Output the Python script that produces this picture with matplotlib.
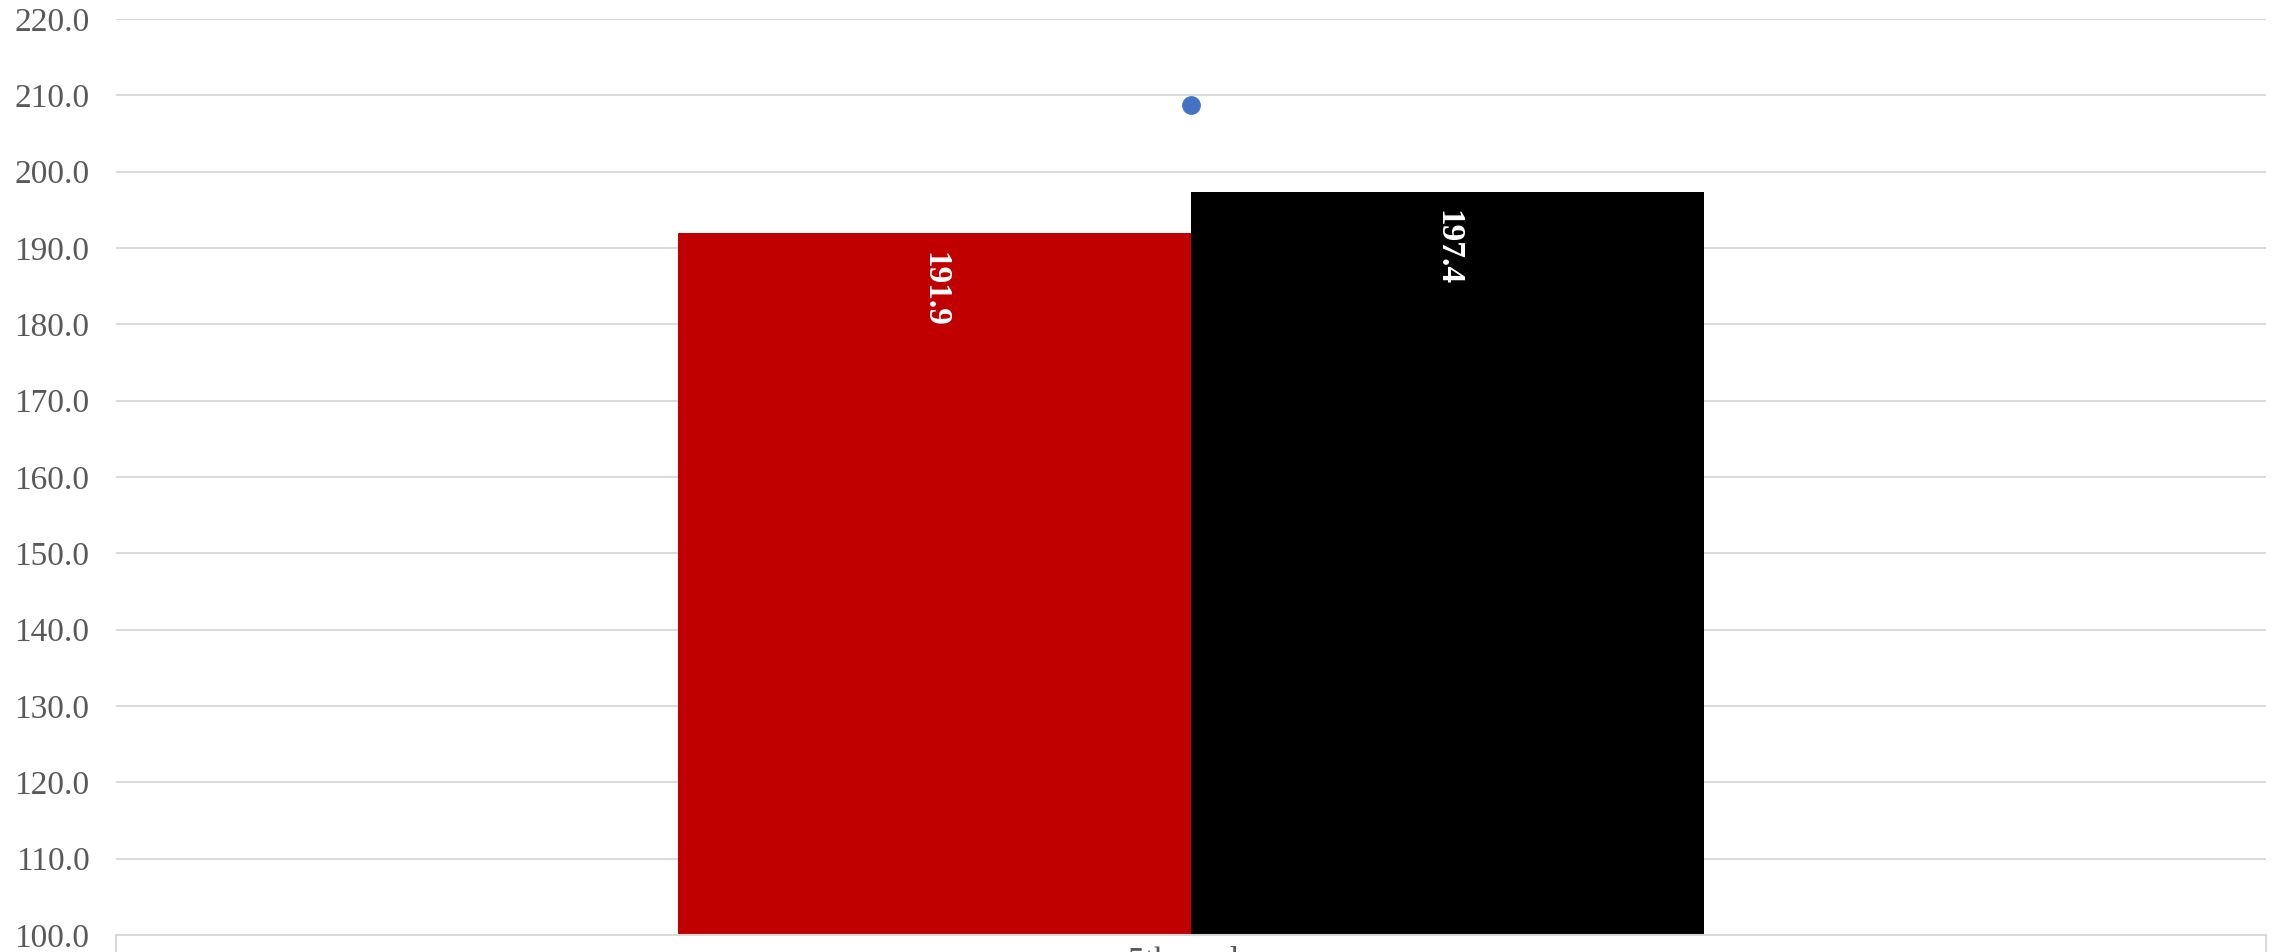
import matplotlib.pyplot as plt
from matplotlib.ticker import FormatStrFormatter

# data
categories = ["5th grade"]
series_red = [191.9]
series_black = [197.4]
marker_vals = [208.7]
y_ticks = [100, 110, 120, 130, 140, 150, 160, 170, 180, 190, 200, 210, 220]

plt.rcParams['font.family'] = ['Liberation Serif', 'DejaVu Serif']

fig = plt.figure(figsize=(22.78, 9.52), dpi=100)
ax = fig.add_axes([116 / 2278, 17 / 952, 2150 / 2278, 916 / 952])

x = list(range(len(categories)))
w = 0.2386
xr = [i - w / 2 for i in x]
xb = [i + w / 2 for i in x]

bars_r = ax.bar(xr, series_red, width=w, color='#C00000', zorder=2)
bars_b = ax.bar(xb, series_black, width=w, color='#000000', zorder=2)
ax.plot(x, marker_vals, 'o', color='#4472C4', markersize=12.5, zorder=3)

# value labels, rotated, just inside the bar tops
for bars in (bars_r, bars_b):
    for b in bars:
        h = b.get_height()
        ax.annotate(f"{h:.1f}", (b.get_x() + b.get_width() / 2, h),
                    xytext=(0, -13), textcoords='offset points',
                    rotation=-90, ha='center', va='top', color='white',
                    fontsize=24, fontweight='bold')

ax.set_ylim(100, 220)
ax.set_xlim(-0.5, len(categories) - 0.5)
ax.set_yticks(y_ticks)
ax.yaxis.set_major_formatter(FormatStrFormatter('%.1f'))
ax.grid(axis='y', color='#D9D9D9', linewidth=1.4, zorder=0)
ax.set_axisbelow(True)

ax.set_xticks(x)
ax.set_xticklabels(categories)
ax.set_xticks([-0.5, len(categories) - 0.5], minor=True)
ax.tick_params(axis='x', which='major', length=0, pad=8, labelsize=24, labelcolor='#595959')
ax.tick_params(axis='x', which='minor', length=13, width=1.5, color='#D9D9D9')
ax.tick_params(axis='y', length=0, pad=19, labelsize=24, labelcolor='#595959')

for s in ('top', 'right', 'left'):
    ax.spines[s].set_visible(False)
ax.spines['bottom'].set_color('#D9D9D9')
ax.spines['bottom'].set_linewidth(1.5)
ax.spines['bottom'].set_zorder(4)

fig.savefig('out.png', dpi=100)
